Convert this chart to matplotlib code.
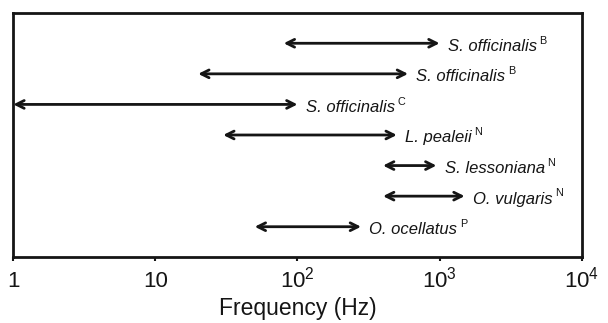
import matplotlib
matplotlib.use("Agg")
import matplotlib.pyplot as plt

plt.rcParams['font.family'] = ['Liberation Sans', 'DejaVu Sans']
plt.rcParams['mathtext.fontset'] = 'custom'
plt.rcParams['mathtext.rm'] = 'Liberation Sans'
plt.rcParams['mathtext.it'] = 'Liberation Sans:italic'

# hearing ranges, top to bottom
species = ['S. officinalis', 'S. officinalis', 'S. officinalis', 'L. pealeii',
           'S. lessoniana', 'O. vulgaris', 'O. ocellatus']
source = ['B', 'B', 'C', 'N', 'N', 'N', 'P']
f_low = [80, 20, 1, 30, 400, 400, 50]
f_high = [1000, 600, 100, 500, 950, 1500, 280]

tick_vals = [1, 10, 100, 1000, 10000]
tick_labels = ['1', '10', r'$10^2$', r'$10^3$', r'$10^4$']

ink = '#151515'

fig = plt.figure(figsize=(6.08, 3.23), dpi=100)
ax = fig.add_axes([0.0219, 0.2034, 0.9348, 0.7573])

n = len(species)
for i in range(n):
    y = n - i
    ax.annotate('', xy=(f_high[i], y), xytext=(f_low[i], y),
                arrowprops=dict(arrowstyle='<->', lw=2, color=ink,
                                mutation_scale=14, shrinkA=0, shrinkB=0))
    t = ax.annotate(species[i], xy=(f_high[i], y), xytext=(6, -5.3),
                    textcoords='offset points', va='baseline', ha='left',
                    fontsize=12, fontstyle='italic', color=ink)
    # superscript source letter
    ax.annotate(source[i], xy=(1, 1), xycoords=t, xytext=(1.8, 2.2),
                textcoords='offset points', va='top', ha='left',
                fontsize=7.8, color=ink)

ax.set_xscale('log')
ax.set_xlim(1, 10000)
ax.set_ylim(0, 8)
ax.set_xticks(tick_vals)
ax.set_xticklabels(tick_labels)
ax.minorticks_off()
ax.set_yticks([])
ax.tick_params(axis='x', direction='out', length=3, width=1.5, labelsize=16,
               pad=18.5, colors=ink)
for lbl in ax.get_xticklabels():
    lbl.set_va('baseline')
for s in ax.spines.values():
    s.set_linewidth(2)
    s.set_color(ink)
ax.set_xlabel('Frequency (Hz)', fontsize=16.5, labelpad=3.5, color=ink)

fig.savefig('out.png', dpi=100)
